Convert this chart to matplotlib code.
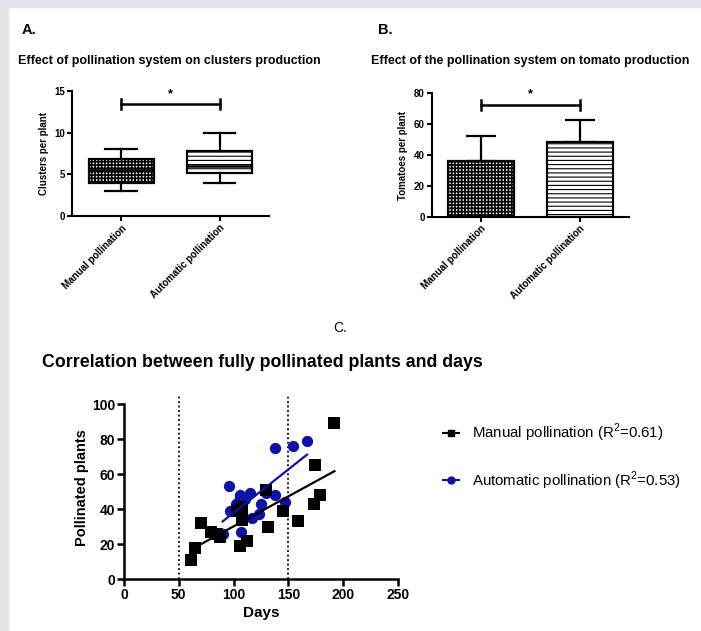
import numpy as np
import matplotlib
import matplotlib.pyplot as plt
from matplotlib.lines import Line2D
from matplotlib.patches import Rectangle

plt.switch_backend('Agg')

# Panel A: box plot summaries (clusters per plant)
groups = ['Manual pollination', 'Automatic pollination']
box_med = [5.5, 6.0]
box_q1 = [4.0, 5.2]
box_q3 = [6.8, 7.8]
box_lo = [3.0, 4.0]
box_hi = [8.0, 10.0]

# Panel B: bar means and upper error (tomatoes per plant)
bar_mean = [36, 48.5]
bar_err = [16.5, 14.5]

# Panel C: scatter points (days vs pollinated plants)
manual_days = [61, 65, 70, 79, 85, 88, 103, 108, 108, 108, 106, 112, 130, 131,
               145, 159, 173, 174, 179, 192]
manual_plants = [11, 18, 32, 27, 26, 24, 39, 40, 41, 34, 19, 22, 51, 30,
                 39, 33, 43, 65, 48, 89]
auto_days = [90, 96, 97, 102, 105, 106, 106, 108, 107, 110, 115, 117, 123, 125,
             130, 138, 138, 147, 154, 167]
auto_plants = [25.5, 53, 39, 43, 44.5, 48, 47, 38, 27, 46, 49, 35, 37, 43,
               49, 48, 75, 44, 76, 79]
r2_manual = 0.61
r2_auto = 0.53

BLUE = '#0c13a6'
GRAY_BG = '#e4e5e7'
HATCHES = ['+++++', '----']
HATCH_LW = [1.2, 0.8]

plt.rcParams['font.family'] = ['Liberation Sans', 'DejaVu Sans']
plt.rcParams['mathtext.fontset'] = 'custom'
plt.rcParams['mathtext.rm'] = 'Liberation Sans'


def set_pattern(patch, i):
    patch.set_facecolor('white')
    patch.set_hatch(HATCHES[i])
    if hasattr(patch, 'set_hatch_linewidth'):
        patch.set_hatch_linewidth(HATCH_LW[i])


def style_axis(ax, lw=1.5):
    for side in ['top', 'right']:
        ax.spines[side].set_visible(False)
    for side in ['left', 'bottom']:
        ax.spines[side].set_linewidth(lw)
    ax.tick_params(width=lw, length=3.5, pad=1.5)


def sig_bar(ax, y, h, star_y, size):
    ax.plot([0, 1], [y, y], color='black', lw=1.8)
    ax.plot([0, 0], [y - h, y + h], color='black', lw=1.8)
    ax.plot([1, 1], [y - h, y + h], color='black', lw=1.8)
    ax.text(0.5, star_y, '*', ha='center', va='center', fontsize=size,
            fontweight='bold')


fig = plt.figure(figsize=(7.01, 6.31), dpi=100)

# grey page border (top and left)
fig.patches.append(Rectangle((0, 1 - 7 / 631), 1, 7 / 631, transform=fig.transFigure,
                             color=GRAY_BG, zorder=-1))
fig.patches.append(Rectangle((0, 0), 8 / 701, 1, transform=fig.transFigure,
                             color=GRAY_BG, zorder=-1))

# ---------- Panel A ----------
axA = fig.add_axes([0.1027, 0.6577, 0.281, 0.1981])
stats = []
for i in range(2):
    stats.append(dict(med=box_med[i], q1=box_q1[i], q3=box_q3[i],
                      whislo=box_lo[i], whishi=box_hi[i], fliers=[]))
bp = axA.bxp(stats, positions=[0, 1], widths=0.66, patch_artist=True,
             showfliers=False,
             boxprops=dict(linewidth=1.6, edgecolor='black'),
             medianprops=dict(color='black', linewidth=1.8),
             whiskerprops=dict(linewidth=1.6),
             capprops=dict(linewidth=1.6))
for i, box in enumerate(bp['boxes']):
    set_pattern(box, i)
for cap in bp['caps']:
    c = np.mean(cap.get_xdata())
    cap.set_xdata([c - 0.16, c + 0.16])
axA.set_xlim(-0.5, 1.5)
axA.set_ylim(0, 15)
axA.set_yticks([0, 5, 10, 15])
axA.set_xticks([0, 1])
axA.set_xticklabels(groups, rotation=45, ha='right', rotation_mode='anchor',
                    fontsize=7, fontweight='bold')
for lab in axA.get_yticklabels():
    lab.set_fontsize(7)
    lab.set_fontweight('bold')
axA.set_ylabel('Clusters per plant', fontsize=7, fontweight='bold', labelpad=4)
style_axis(axA)
sig_bar(axA, 13.4, 0.6, 14.6, 9)

# ---------- Panel B ----------
axB = fig.add_axes([0.6158, 0.6566, 0.2815, 0.1955])
xpos = np.arange(len(groups))
bars = axB.bar(xpos, bar_mean, width=0.67, color='white', edgecolor='black',
               linewidth=1.6, zorder=2)
for i, b in enumerate(bars):
    set_pattern(b, i)
axB.errorbar(xpos, bar_mean, yerr=[[0, 0], bar_err], fmt='none', ecolor='black',
             elinewidth=1.6, capsize=11, capthick=1.6, zorder=1)
axB.set_xlim(-0.5, 1.5)
axB.set_ylim(0, 80)
axB.set_yticks([0, 20, 40, 60, 80])
axB.set_xticks(xpos)
axB.set_xticklabels(groups, rotation=45, ha='right', rotation_mode='anchor',
                    fontsize=7, fontweight='bold')
for lab in axB.get_yticklabels():
    lab.set_fontsize(7)
    lab.set_fontweight('bold')
axB.set_ylabel('Tomatoes per plant', fontsize=7, fontweight='bold', labelpad=4)
style_axis(axB)
sig_bar(axB, 72.5, 3.2, 79.5, 9)

# ---------- Panel C ----------
axC = fig.add_axes([0.1769, 0.0824, 0.3909, 0.2912])
axC.axvline(50, color='black', ls=(0, (1, 1.5)), lw=1.3, zorder=0)
axC.axvline(150, color='black', ls=(0, (1, 1.5)), lw=1.3, zorder=0)
axC.scatter(manual_days, manual_plants, marker='s', s=66, color='black',
            zorder=3, linewidths=0)
axC.scatter(auto_days, auto_plants, marker='o', s=66, color=BLUE, zorder=2,
            linewidths=0)
for xs, ys, col in [(manual_days, manual_plants, 'black'),
                    (auto_days, auto_plants, BLUE)]:
    k, b0 = np.polyfit(xs, ys, 1)
    xx = np.array([min(xs), max(xs)])
    axC.plot(xx, k * xx + b0, color=col, lw=1.6, zorder=4)
axC.set_xlim(0, 250)
axC.set_ylim(0, 105)
axC.set_xticks([0, 50, 100, 150, 200, 250])
axC.set_yticks([0, 20, 40, 60, 80, 100])
axC.spines['left'].set_bounds(0, 100)
for lab in axC.get_xticklabels() + axC.get_yticklabels():
    lab.set_fontsize(10)
    lab.set_fontweight('bold')
axC.set_xlabel('Days', fontsize=11, fontweight='bold', labelpad=3)
axC.set_ylabel('Pollinated plants', fontsize=10.5, fontweight='bold', labelpad=2)
style_axis(axC, lw=1.8)
axC.tick_params(length=5)

handles = [
    Line2D([], [], color='black', marker='s', markersize=5, lw=1.5),
    Line2D([], [], color=BLUE, marker='o', markersize=5, lw=1.5),
]
labels = ['Manual pollination (R$^2$=%.2f)' % r2_manual,
          'Automatic pollination (R$^2$=%.2f)' % r2_auto]
fig.legend(handles, labels, loc='center left', bbox_to_anchor=(0.613, 0.276),
           frameon=False, fontsize=10.8, handlelength=1.05, handletextpad=0.85,
           labelspacing=1.65)

# ---------- Titles and panel letters ----------
fig.text(0.031, 0.952, 'A.', fontsize=10.5, fontweight='bold', va='center')
fig.text(0.539, 0.952, 'B.', fontsize=10.5, fontweight='bold', va='center')
fig.text(0.0257, 0.903, 'Effect of pollination system on clusters production',
         fontsize=9, fontweight='bold', va='center')
fig.text(0.529, 0.903, 'Effect of the pollination system on tomato production',
         fontsize=9, fontweight='bold', va='center')
fig.text(0.475, 0.480, 'C.', fontsize=10,
         family=['Liberation Sans Narrow', 'Liberation Sans'], va='center')
fig.text(0.06, 0.4263, 'Correlation between fully pollinated plants and days',
         fontsize=12.8, fontweight='bold', va='center')

fig.savefig('out.png', dpi=100, facecolor='white')
